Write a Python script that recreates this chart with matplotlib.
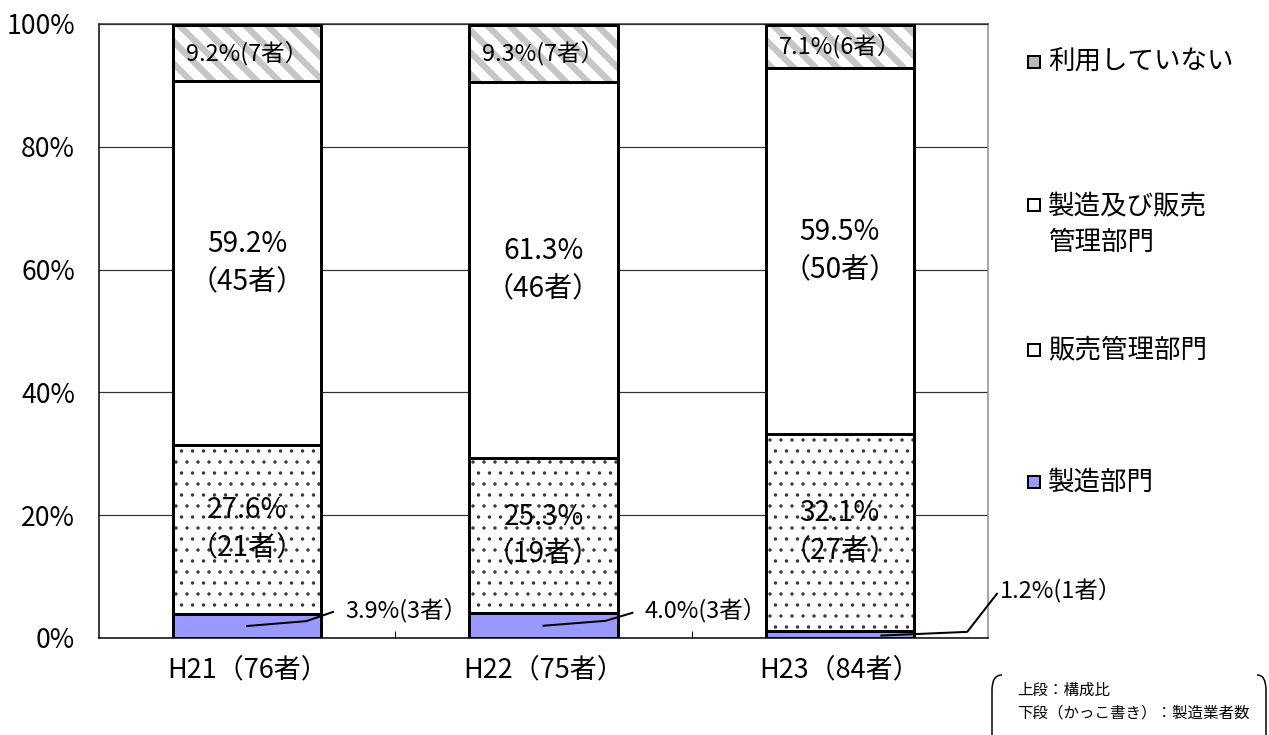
import matplotlib.pyplot as plt
from matplotlib.patches import Rectangle, PathPatch
from matplotlib.path import Path

plt.rcParams['font.family'] = ['Noto Sans CJK JP', 'DejaVu Sans']

# data
years = ['H21（76者）', 'H22（75者）', 'H23（84者）']
series = ['利用していない', '製造及び販売\n管理部門', '販売管理部門', '製造部門']
manuf = [3.9, 4.0, 1.2]
sales = [27.6, 25.3, 32.1]
both = [59.2, 61.3, 59.5]
unused = [9.2, 9.3, 7.1]
manuf_n = [3, 3, 1]
sales_n = [21, 19, 27]
both_n = [45, 46, 50]
unused_n = [7, 7, 6]

DPI = 132
W, H = 1269, 735


def px(v):
    # pixels -> points
    return v * 72 / DPI


def fx(x):
    return x / W


def fy(y):
    return 1 - y / H


def with_hatch_lw(artist, lw):
    # hatch linewidth may only be read at draw time, so set it around draw
    old_draw = artist.draw

    def draw(renderer):
        with plt.rc_context({'hatch.linewidth': lw}):
            old_draw(renderer)
    artist.draw = draw
    if hasattr(artist, 'set_hatch_linewidth'):
        artist.set_hatch_linewidth(lw)


fig = plt.figure(figsize=(W / DPI, H / DPI), dpi=DPI)
ax = fig.add_axes([fx(99), fy(638), (988 - 99) / W, (638 - 24) / H])

x = list(range(len(years)))
w = 0.5
b2 = [m + s for m, s in zip(manuf, sales)]
b3 = [a + b for a, b in zip(b2, both)]

edge = px(3)

ax.bar(x, manuf, w, color='#9999ff', edgecolor='black', linewidth=edge, zorder=3)

dots = ax.bar(x, sales, w, bottom=manuf, color='white', edgecolor='#3a3a3a',
              hatch='..', linewidth=0, zorder=3)
ax.bar(x, sales, w, bottom=manuf, fill=False, edgecolor='black',
       linewidth=edge, zorder=4)

ax.bar(x, both, w, bottom=b2, color='white', edgecolor='black',
       linewidth=edge, zorder=3)

stripes = ax.bar(x, unused, w, bottom=b3, color='white', edgecolor='#c6c6c6',
                 hatch='\\\\', linewidth=0, zorder=3)
ax.bar(x, unused, w, bottom=b3, fill=False, edgecolor='black',
       linewidth=edge, zorder=4)

for p in dots:
    with_hatch_lw(p, px(1.2))
for p in stripes:
    with_hatch_lw(p, px(6.5))

big = px(28)
small = px(23.5)

for i in x:
    ax.text(i, manuf[i] + sales[i] / 2, f'{sales[i]:.1f}%\n（{sales_n[i]}者）',
            ha='center', va='center', fontsize=big, linespacing=1.35, zorder=6)
    ax.text(i, b2[i] + both[i] / 2, f'{both[i]:.1f}%\n（{both_n[i]}者）',
            ha='center', va='center', fontsize=big, linespacing=1.35, zorder=6)
    ax.text(i, b3[i] + unused[i] / 2, f'{unused[i]:.1f}%({unused_n[i]}者）',
            ha='center', va='center', fontsize=small, zorder=6)

# leader lines for the thin 製造部門 segments (layout offsets per bar)
lead_dx = [[0.0, 0.2, 0.29], [0.0, 0.21, 0.3], [0.14, 0.43, 0.53]]
lead_dy = [[-0.0, 0.8, 2.3], [-0.0, 0.8, 2.1], [-0.2, 0.4, 6.6]]
lab_dx = [0.33, 0.34, 0.54]
lab_dy = [4.6, 4.6, 7.8]
for i in x:
    xs = [i + d for d in lead_dx[i]]
    ys = [manuf[i] / 2 + d for d in lead_dy[i]]
    ax.plot(xs, ys, color='black', linewidth=px(2), zorder=6, clip_on=False)
    ax.text(i + lab_dx[i], lab_dy[i], f'{manuf[i]:.1f}%({manuf_n[i]}者）',
            ha='left', va='center', fontsize=small, zorder=6, clip_on=False)

ax.set_xlim(-0.5, 2.5)
ax.set_ylim(0, 100)
ax.set_yticks(range(0, 101, 20))
ax.set_yticklabels([f'{v}%' for v in range(0, 101, 20)])
ax.set_xticks(x)
ax.set_xticklabels(years)
ax.set_xticks([0.5, 1.5], minor=True)
ax.tick_params(axis='y', length=0, pad=px(24), labelsize=px(26.5))
ax.tick_params(axis='x', which='major', length=0, pad=px(18), labelsize=px(27))
ax.tick_params(axis='x', which='minor', direction='in', length=px(7),
               width=px(1), color='black')
ax.yaxis.grid(True, color='#303030', linewidth=px(1.2), zorder=0)
ax.set_axisbelow(True)
for s in ['left', 'bottom']:
    ax.spines[s].set_color('black')
    ax.spines[s].set_linewidth(px(1.5))
ax.spines['top'].set_color('#303030')
ax.spines['top'].set_linewidth(px(1.5))
ax.spines['right'].set_color('#8a8a8a')
ax.spines['right'].set_linewidth(px(1.5))

# legend, drawn by hand
leg_colors = ['#b8b8b8', 'white', 'white', '#9999ff']
mark_y = [62, 205, 350, 482]
text_y = [62, 225, 350, 482]
for name, c, my, ty in zip(series, leg_colors, mark_y, text_y):
    fig.patches.append(Rectangle((fx(1028), fy(my + 6)), 12 / W, 12 / H,
                                 facecolor=c, edgecolor='black',
                                 linewidth=px(2), transform=fig.transFigure))
    fig.text(fx(1048), fy(ty), name, ha='left', va='center',
             fontsize=px(26.5), linespacing=1.4)

# note in brackets
left = Path([(fx(1002), fy(675)), (fx(992), fy(675)), (fx(992), fy(690)),
             (fx(992), fy(736))],
            [Path.MOVETO, Path.CURVE3, Path.CURVE3, Path.LINETO])
right = Path([(fx(1257), fy(675)), (fx(1266), fy(675)), (fx(1266), fy(690)),
              (fx(1266), fy(736))],
             [Path.MOVETO, Path.CURVE3, Path.CURVE3, Path.LINETO])
for pth in [left, right]:
    fig.patches.append(PathPatch(pth, fill=False, edgecolor='black',
                                 linewidth=px(1.5), transform=fig.transFigure))
fig.text(fx(1017), fy(690), '上段：構成比', ha='left', va='center',
         fontsize=px(15.5))
fig.text(fx(1017), fy(713), '下段（かっこ書き）：製造業者数', ha='left',
         va='center', fontsize=px(15.5))

fig.savefig('out.png', dpi=DPI)
